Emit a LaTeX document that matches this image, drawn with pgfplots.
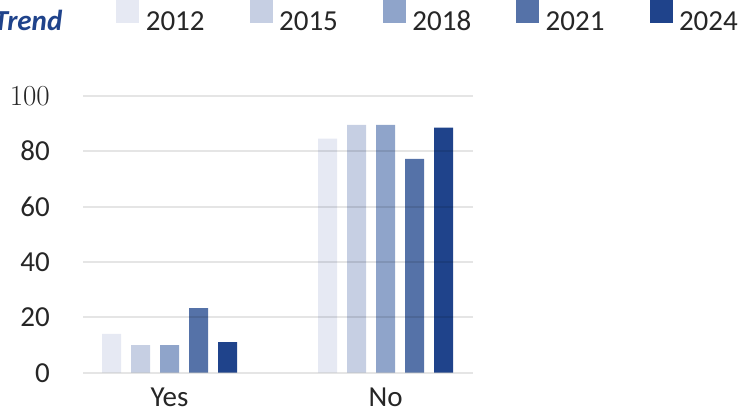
\documentclass[border=0pt]{standalone}
\usepackage{fontspec}
\setsansfont{Carlito}
\usepackage{pgfplots}
\pgfplotsset{compat=1.18}
\definecolor{c1}{HTML}{E6E9F3}
\definecolor{c2}{HTML}{C6CFE3}
\definecolor{c3}{HTML}{8FA4CA}
\definecolor{c4}{HTML}{5572A8}
\definecolor{c5}{HTML}{1F438B}
\definecolor{txt}{HTML}{262626}
\newcommand{\bigfont}{\fontsize{29}{34}\selectfont\sffamily}
\pgfplotsset{/pgfplots/ybar legend/.style={/pgfplots/legend image code/.code={\fill[##1,draw=none] (0pt,-1pt) rectangle (23pt,22pt);}}}
\begin{document}
\begin{tikzpicture}[x=1pt,y=1pt]
\useasboundingbox (0,0) rectangle (738,-413);
\clip (0,0) rectangle (738,-413);
\begin{axis}[
  at={(83pt,-372.7pt)}, anchor=south west,
  scale only axis, width=390pt, height=277pt,
  ymin=0, ymax=100, xmin=-0.4005, xmax=1.405,
  ybar=10pt, bar width=19pt,
  axis line style={draw=none},
  major tick length=0pt,
  xtick={0,1}, xticklabels={Yes,No},
  ytick={0,20,40,60,80,100}, yticklabels={0,20,40,60,80,{\rmfamily 100}},
  ymajorgrids, grid style={line width=2pt, black, opacity=0.1},
  axis on top,
  tick label style={font=\bigfont, text=txt},
  yticklabel style={anchor=east, inner sep=0pt, xshift=-33pt},
  xticklabel style={anchor=base, inner sep=0pt, yshift=-34pt},
  legend style={at={(1.6872,1.2877)}, anchor=east, draw=none, fill=none,
    font=\bigfont, text=txt, legend columns=-1,
    nodes={inner sep=0pt},
    /tikz/every odd column/.append style={column sep=6.5pt},
    /tikz/every even column/.append style={column sep=45pt}},
]
\addlegendimage{empty legend}
\addlegendentry{\textcolor{c5}{\textbf{\textit{Trend}}}\rule{9pt}{0pt}}
\addplot[fill=c1, draw=none] coordinates {(0,14) (1,84.5)};
\addlegendentry{2012}
\addplot[fill=c2, draw=none] coordinates {(0,10) (1,89.5)};
\addlegendentry{2015}
\addplot[fill=c3, draw=none] coordinates {(0,10) (1,89.5)};
\addlegendentry{2018}
\addplot[fill=c4, draw=none] coordinates {(0,23.3) (1,77.2)};
\addlegendentry{2021}
\addplot[fill=c5, draw=none] coordinates {(0,11) (1,88.5)};
\addlegendentry{2024}
\end{axis}
\end{tikzpicture}
\end{document}
